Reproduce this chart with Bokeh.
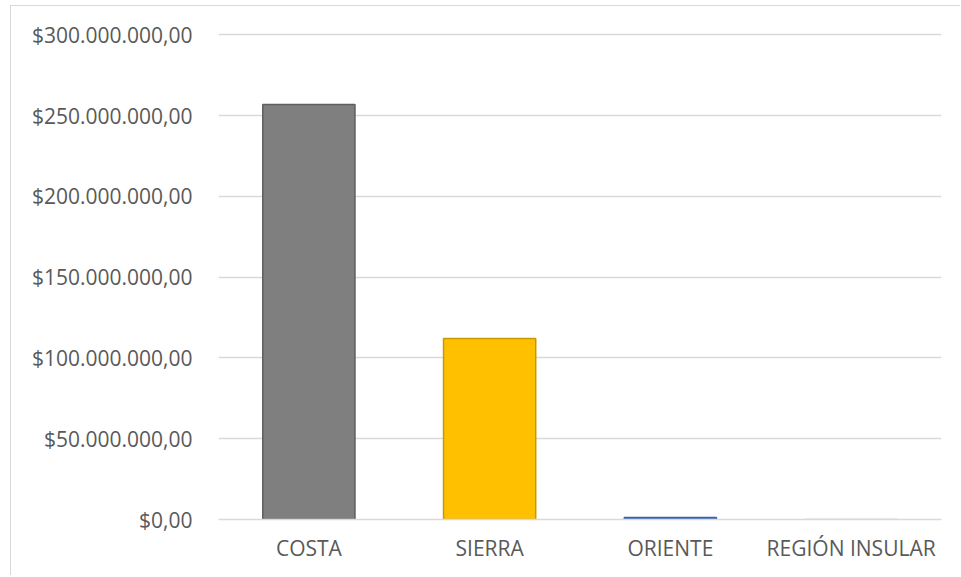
from bokeh.plotting import figure
from bokeh.models import ColumnDataSource, FactorRange, Range1d, FixedTicker
from bokeh.embed import file_html
from bokeh.resources import INLINE

regions = ["COSTA", "SIERRA", "ORIENTE", "REGIÓN INSULAR"]
amounts = [257_000_000, 112_000_000, 1_300_000, 300_000]
fill_colors = ["#7f7f7f", "#ffc000", "#4472c4", "#eeeeee"]
edge_colors = ["#5e5e5e", "#c99700", "#3a62a8", "#e6e6e6"]
tick_values = [0, 50_000_000, 100_000_000, 150_000_000, 200_000_000, 250_000_000, 300_000_000]
tick_labels = ["$0,00", "$50.000.000,00", "$100.000.000,00", "$150.000.000,00",
               "$200.000.000,00", "$250.000.000,00", "$300.000.000,00"]

src = ColumnDataSource(dict(x=regions, top=amounts, fill=fill_colors, edge=edge_colors))

p = figure(x_range=FactorRange(*regions, range_padding=0), y_range=Range1d(0, 301_500_000),
           width=950, height=570, output_backend="svg", toolbar_location=None,
           min_border_left=207, min_border_right=20, min_border_top=26, min_border_bottom=57)
p.styles = {"border-left": "1px solid #d9d9d9", "border-top": "1px solid #d9d9d9",
            "margin-left": "10px", "margin-top": "5px"}
p.outline_line_color = None

p.vbar(x="x", top="top", width=0.51, source=src, fill_color="fill", line_color="edge", line_width=1.5)

p.yaxis.ticker = FixedTicker(ticks=tick_values)
p.yaxis.major_label_overrides = {v: l for v, l in zip(tick_values, tick_labels)}
p.yaxis.axis_line_color = None
p.yaxis.major_tick_line_color = None
p.yaxis.minor_tick_line_color = None
p.yaxis.major_tick_out = 0
p.yaxis.major_label_standoff = 26
p.yaxis.major_label_text_font = "Open Sans"
p.yaxis.major_label_text_font_size = "21px"
p.yaxis.major_label_text_color = "#595959"

p.xaxis.axis_line_color = "#d9d9d9"
p.xaxis.axis_line_width = 1.5
p.xaxis.major_tick_line_color = None
p.xaxis.minor_tick_line_color = None
p.xaxis.major_tick_out = 0
p.xaxis.major_label_standoff = 14
p.xaxis.major_label_text_font = "Open Sans"
p.xaxis.major_label_text_font_size = "21px"
p.xaxis.major_label_text_color = "#595959"

p.xgrid.grid_line_color = None
p.ygrid.grid_line_color = "#d9d9d9"
p.ygrid.grid_line_width = 1.5

open("out.html", "w").write(file_html(p, INLINE))
